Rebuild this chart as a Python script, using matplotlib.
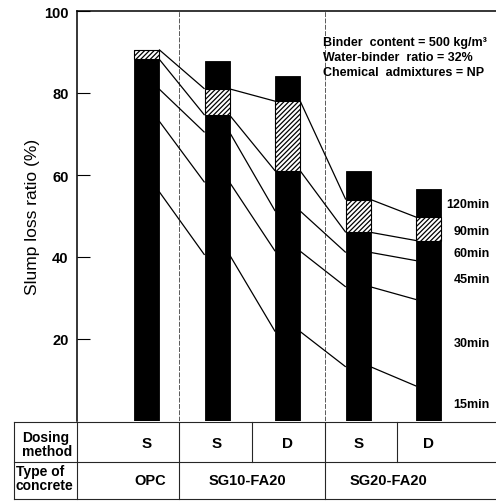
import numpy as np
import matplotlib
matplotlib.use("Agg")
import matplotlib.pyplot as plt
from matplotlib.lines import Line2D
from matplotlib.transforms import blended_transform_factory

plt.rcParams['font.family'] = ['Liberation Sans', 'DejaVu Sans']
plt.rcParams['hatch.linewidth'] = 0.9

# ---------------- data ----------------
times = ["15min", "30min", "45min", "60min", "90min", "120min"]
dosing = ["S", "S", "D", "S", "D"]
concrete_types = ["OPC", "SG10-FA20", "SG20-FA20"]
v15 = [56.0, 40.5, 21.8, 13.2, 8.5]
v30 = [73.2, 58.2, 41.4, 32.7, 29.6]
v45 = [81.0, 70.4, 51.2, 41.1, 39.1]
v60 = [88.3, 74.6, 61.0, 46.0, 44.0]
v90 = [90.6, 81.0, 78.0, 54.0, 49.7]
v120 = [np.nan, 87.8, 84.2, 61.0, 56.6]
yticks = [20, 40, 60, 80, 100]

# ---------------- figure ----------------
W, H = 496, 502
fig = plt.figure(figsize=(W / 100, H / 100), dpi=100)
ax = fig.add_axes([77 / W, 80 / H, 419 / W, 410 / H])
x = np.arange(len(dosing))
bw = 0.355
ax.set_xlim(-0.984, 4.95)
ax.set_ylim(0, 100)

# bars: 0-60 black, 60-90 hatched, 90-120 black
ax.bar(x, v60, width=bw, color='black', edgecolor='black', linewidth=0.6, zorder=3)
ax.bar(x, np.array(v90) - np.array(v60), bottom=v60, width=bw, facecolor='white',
       edgecolor='black', hatch='///////', linewidth=0.8, zorder=3)
top = np.array(v120) - np.array(v90)
ax.bar(x, np.nan_to_num(top), bottom=v90, width=bw, color='black', edgecolor='black',
       linewidth=0.6, zorder=3)

# connecting lines between bars
for series in [v15, v30, v45, v60, v90]:
    for i in range(len(x) - 1):
        ax.plot([x[i] + bw / 2, x[i + 1] - bw / 2], [series[i], series[i + 1]],
                color='black', lw=0.9, zorder=4, solid_capstyle='butt')

# vertical dashed separators
for xs in [0.46, 2.53]:
    ax.axvline(xs, color='0.35', lw=0.7, ls=(0, (5, 1.5)), zorder=1)

# axes styling
ax.spines['right'].set_visible(False)
ax.spines['bottom'].set_visible(False)
ax.spines['left'].set_linewidth(1.1)
ax.spines['top'].set_linewidth(1.1)
ax.set_xticks([])
ax.set_yticks(yticks)
ax.set_yticklabels([str(t) for t in yticks], fontsize=10.5, fontweight='bold')
ax.tick_params(axis='y', direction='in', length=9, width=0.8, pad=6)
ax.set_ylabel("Slump loss ratio (%)", fontsize=12.5, labelpad=3)

# annotation
ax.text(2.5, 92.4, "Binder  content = 500 kg/m³", fontsize=9, fontweight='bold', va='center')
ax.text(2.5, 88.8, "Water-binder  ratio = 32%", fontsize=9, fontweight='bold', va='center')
ax.text(2.5, 85.2, "Chemical  admixtures = NP", fontsize=9, fontweight='bold', va='center')

# time labels on right
label_y = [4.1, 19.0, 34.6, 41.0, 46.4, 52.9]
for t, yy in zip(times, label_y):
    ax.text(4.86, yy, t, fontsize=9, fontweight='bold', ha='right', va='center')

# ---------------- table ----------------
ft = fig.transFigure
bt = blended_transform_factory(ax.transData, fig.transFigure)
def fy(py):
    return 1 - py / H

lc = '0.15'
lw = 0.8
# horizontal lines
for py in [423, 463, 500]:
    fig.add_artist(Line2D([14 / W, 1.0], [fy(py), fy(py)], transform=ft, color=lc, lw=lw))
# label column borders
for px in [14, 77]:
    fig.add_artist(Line2D([px / W, px / W], [fy(423), fy(500)], transform=ft, color=lc, lw=lw))
# column separators
for xs in [0.46, 2.53]:
    fig.add_artist(Line2D([xs, xs], [fy(423), fy(500)], transform=bt, color=lc, lw=lw))
for xs in [1.49, 3.55]:
    fig.add_artist(Line2D([xs, xs], [fy(423), fy(463)], transform=bt, color=lc, lw=lw))

fig.text(22 / W, fy(445), "Dosing\nmethod", fontsize=10, fontweight='bold', ha='left', va='center',
         linespacing=1.0)
fig.text(16 / W, fy(479), "Type of\nconcrete", fontsize=10, fontweight='bold', ha='left', va='center',
         linespacing=1.0)
for i, d in enumerate(dosing):
    fig.text(x[i], fy(444), d, transform=bt, fontsize=11, fontweight='bold', ha='center', va='center')
for xc, c in zip([0.05, 1.43, 3.43], concrete_types):
    fig.text(xc, fy(481), c, transform=bt, fontsize=10.5, fontweight='bold', ha='center', va='center')

fig.savefig("out.png", dpi=100)
